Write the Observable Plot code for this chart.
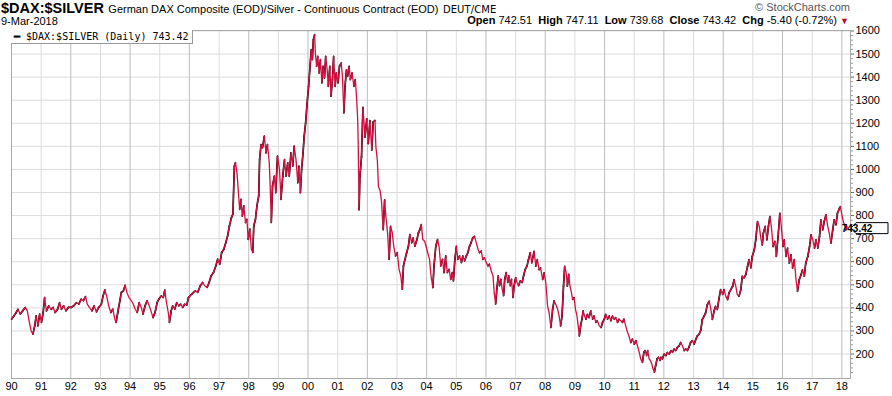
<!DOCTYPE html>
<html>
<head>
<meta charset="utf-8">
<script src="https://cdn.jsdelivr.net/npm/d3@7"></script>
<script src="https://cdn.jsdelivr.net/npm/@observablehq/plot@0.6"></script>
<style>
  html, body { margin: 0; padding: 0; background: #fff; }
  #wrap { position: relative; width: 892px; height: 396px; overflow: hidden; font-family: "Liberation Sans", Arial, sans-serif; color: #000; }
  #chart { position: absolute; left: 0; top: 0; }
  .abs { position: absolute; white-space: nowrap; z-index: 2; }
  #legend { position: absolute; z-index: 2; left: 11px; top: 30px; height: 13px; padding: 0 3px 0 3px; background: #fff;
            border-right: 1px solid #999; border-bottom: 1px solid #999; font-family: "DejaVu Sans Mono", monospace; font-size: 10px; line-height: 13px; }
</style>
</head>
<body>
<div id="wrap">
  <div id="chart"></div>
  <div class="abs" style="left:1px; top:0px; line-height:16px;">
    <span style="font-weight:bold; font-size:14.5px;">$DAX:$SILVER</span>
    <span style="font-size:11px;">German DAX Composite (EOD)/Silver - Continuous Contract (EOD)</span>
    <span style="font-family:'DejaVu Sans'; font-size:10px; letter-spacing:0.1px;">DEUT/CME</span>
  </div>
  <div class="abs" style="left:1px; top:15px; font-size:11px; line-height:13px;">9-Mar-2018</div>
  <div class="abs" style="right:42px; top:1px; font-size:11px; line-height:13px; color:#555;">&#169; StockCharts.com</div>
  <div class="abs" style="right:43px; top:14px; font-size:11px; line-height:13px;">
    <b>Open</b> 742.51 &nbsp;<b>High</b> 747.11 &nbsp;<b>Low</b> 739.68 &nbsp;<b>Close</b> 743.42 &nbsp;<b>Chg</b> -5.40 (-0.72%) <span style="color:#b00b30; font-size:9px;">&#9660;</span>
  </div>
  <div id="legend"><span style="font-family:'Liberation Sans'; font-weight:bold;">&#9473;</span> $DAX:$SILVER (Daily) 743.42</div>
</div>
<script>
const dates = [
"1990-01-02","1990-01-30","1990-02-28","1990-03-22","1990-04-19","1990-05-18","1990-06-20","1990-07-15","1990-08-09","1990-08-31",
"1990-09-22","1990-10-14","1990-11-01","1990-11-22","1990-12-14","1991-01-05","1991-01-26","1991-02-13","1991-03-07","1991-04-05",
"1991-05-04","1991-05-29","1991-06-23","1991-07-22","1991-08-17","1991-09-07","1991-10-06","1991-11-01","1991-12-03","1992-01-08",
"1992-02-06","1992-03-11","1992-04-09","1992-05-08","1992-06-05","1992-07-01","1992-07-22","1992-08-17","1992-09-18","1992-10-14",
"1992-11-12","1992-12-10","1993-01-12","1993-02-02","1993-02-24","1993-03-22","1993-04-12","1993-05-08","1993-06-02","1993-06-27",
"1993-07-12","1993-08-02","1993-08-28","1993-09-15","1993-10-10","1993-11-01","1993-11-22","1993-12-18","1994-01-15","1994-02-10",
"1994-03-04","1994-03-29","1994-04-23","1994-05-18","1994-06-09","1994-07-04","1994-07-30","1994-08-24","1994-09-15","1994-10-10",
"1994-11-04","1994-11-30","1994-12-21","1995-01-19","1995-02-13","1995-03-04","1995-03-25","1995-04-16","1995-04-30","1995-05-22",
"1995-06-09","1995-07-04","1995-07-30","1995-08-24","1995-09-15","1995-10-10","1995-11-04","1995-11-30","1995-12-21","1996-01-30",
"1996-03-14","1996-04-12","1996-05-15","1996-06-13","1996-07-08","1996-08-06","1996-08-31","1996-09-26","1996-10-24","1996-11-22",
"1996-12-14","1997-01-08","1997-02-02","1997-02-28","1997-03-25","1997-04-16","1997-05-08","1997-06-02","1997-06-20","1997-07-08",
"1997-07-22","1997-08-09","1997-08-24","1997-09-11","1997-09-26","1997-10-14","1997-11-01","1997-11-22","1997-12-10","1997-12-25",
"1998-01-15","1998-02-02","1998-02-20","1998-03-04","1998-03-25","1998-04-12","1998-05-04","1998-05-15","1998-06-02","1998-06-20",
"1998-07-12","1998-08-02","1998-08-20","1998-09-11","1998-09-22","1998-10-06","1998-10-21","1998-11-12","1998-11-30","1998-12-21",
"1999-01-15","1999-02-02","1999-02-24","1999-03-18","1999-04-05","1999-04-27","1999-05-15","1999-06-05","1999-06-27","1999-07-15",
"1999-08-06","1999-08-28","1999-09-11","1999-09-29","1999-10-14","1999-11-01","1999-11-15","1999-12-03","1999-12-18","2000-01-08",
"2000-01-23","2000-02-10","2000-02-24","2000-03-07","2000-03-22","2000-04-01","2000-04-16","2000-04-30","2000-05-18","2000-06-02",
"2000-06-20","2000-07-04","2000-07-22","2000-08-06","2000-08-24","2000-09-07","2000-09-26","2000-10-10","2000-10-28","2000-11-12",
"2000-11-30","2000-12-14","2001-01-05","2001-01-23","2001-02-13","2001-02-28","2001-03-18","2001-04-01","2001-04-19","2001-05-04",
"2001-05-22","2001-06-05","2001-06-27","2001-07-19","2001-08-06","2001-08-20","2001-09-04","2001-09-11","2001-09-21","2001-10-01",
"2001-10-21","2001-11-08","2001-12-03","2001-12-25","2002-01-12","2002-02-02","2002-02-24","2002-03-14","2002-04-05","2002-04-16",
"2002-05-04","2002-05-18","2002-06-05","2002-06-23","2002-07-15","2002-08-02","2002-08-17","2002-09-07","2002-09-26","2002-10-14",
"2002-11-04","2002-11-22","2002-12-14","2003-01-05","2003-01-26","2003-02-17","2003-03-07","2003-03-22","2003-04-09","2003-04-30",
"2003-05-22","2003-06-09","2003-07-01","2003-07-19","2003-08-09","2003-09-04","2003-09-22","2003-10-10","2003-10-28","2003-11-15",
"2003-12-07","2003-12-25","2004-01-15","2004-02-06","2004-02-24","2004-03-18","2004-04-01","2004-04-23","2004-05-15","2004-06-02",
"2004-06-23","2004-07-15","2004-08-02","2004-08-24","2004-09-11","2004-10-03","2004-10-24","2004-11-12","2004-11-26","2004-12-14",
"2005-01-02","2005-01-19","2005-02-10","2005-03-04","2005-03-22","2005-04-12","2005-05-04","2005-05-22","2005-06-13","2005-07-01",
"2005-07-22","2005-08-13","2005-09-04","2005-09-26","2005-10-14","2005-11-04","2005-11-22","2005-12-14","2006-01-05","2006-01-26",
"2006-02-13","2006-03-07","2006-03-29","2006-04-12","2006-04-30","2006-05-15","2006-06-02","2006-06-16","2006-07-04","2006-07-19",
"2006-08-06","2006-08-20","2006-09-07","2006-09-26","2006-10-10","2006-10-28","2006-11-12","2006-11-30","2006-12-14","2007-01-02",
"2007-01-19","2007-02-06","2007-02-28","2007-03-22","2007-04-09","2007-04-30","2007-05-22","2007-06-09","2007-07-01","2007-07-19",
"2007-08-17","2007-09-07","2007-09-26","2007-10-17","2007-11-04","2007-11-30","2007-12-18","2008-01-08","2008-01-30","2008-02-17",
"2008-03-11","2008-04-01","2008-04-19","2008-05-11","2008-06-02","2008-06-20","2008-07-08","2008-07-26","2008-08-13","2008-08-28",
"2008-09-15","2008-09-29","2008-10-17","2008-11-01","2008-11-19","2008-12-03","2008-12-21","2009-01-08","2009-01-26","2009-02-10",
"2009-02-24","2009-03-11","2009-03-29","2009-04-12","2009-04-30","2009-05-15","2009-06-05","2009-06-23","2009-07-15","2009-08-06",
"2009-08-24","2009-09-15","2009-10-03","2009-10-28","2009-11-19","2009-12-07","2009-12-28","2010-01-15","2010-02-06","2010-02-28",
"2010-03-18","2010-04-09","2010-04-30","2010-05-18","2010-06-09","2010-06-27","2010-07-19","2010-08-09","2010-08-28","2010-09-18",
"2010-10-10","2010-10-28","2010-11-19","2010-12-10","2011-01-02","2011-01-23","2011-02-10","2011-03-04","2011-03-22","2011-04-12",
"2011-04-30","2011-05-15","2011-06-02","2011-06-16","2011-07-04","2011-07-19","2011-08-06","2011-08-20","2011-09-07","2011-09-22",
"2011-10-10","2011-10-28","2011-11-15","2011-11-26","2011-12-14","2012-01-05","2012-01-26","2012-02-13","2012-03-07","2012-03-29",
"2012-04-16","2012-05-08","2012-05-26","2012-06-16","2012-07-08","2012-07-26","2012-08-17","2012-09-07","2012-09-26","2012-10-17",
"2012-11-04","2012-11-26","2012-12-18","2013-01-08","2013-01-30","2013-02-17","2013-03-11","2013-04-01","2013-04-19","2013-05-11",
"2013-05-29","2013-06-20","2013-07-12","2013-07-30","2013-08-20","2013-09-11","2013-09-29","2013-10-21","2013-11-08","2013-11-30",
"2013-12-25","2014-01-12","2014-02-02","2014-02-24","2014-03-14","2014-04-05","2014-04-27","2014-05-15","2014-06-05","2014-06-23",
"2014-07-15","2014-08-06","2014-08-24","2014-09-15","2014-10-06","2014-10-28","2014-11-15","2014-12-07","2014-12-25","2015-01-19",
"2015-02-06","2015-02-28","2015-03-22","2015-04-09","2015-04-27","2015-05-11","2015-06-02","2015-06-23","2015-07-12","2015-07-30",
"2015-08-17","2015-09-07","2015-09-29","2015-10-17","2015-11-08","2015-11-30","2015-12-14","2016-01-08","2016-01-23","2016-02-13",
"2016-03-04","2016-03-25","2016-04-16","2016-05-04","2016-05-26","2016-06-16","2016-07-04","2016-07-26","2016-08-17","2016-09-04",
"2016-09-26","2016-10-14","2016-11-08","2016-11-30","2016-12-18","2017-01-08","2017-01-30","2017-02-17","2017-03-11","2017-04-01",
"2017-04-19","2017-05-11","2017-05-29","2017-06-20","2017-07-12","2017-07-30","2017-08-20","2017-09-11","2017-09-29","2017-10-21",
"2017-11-08","2017-12-03","2017-12-14","2018-01-02","2018-01-19","2018-02-02","2018-02-20","2018-03-01","2018-03-09"
];
const values = [
351,365,380,394,373,387,402,387,337,300,
286,322,365,322,373,337,380,445,387,409,
394,402,380,394,423,394,409,387,402,402,
409,423,416,438,431,449,416,402,387,409,
383,402,416,452,478,445,409,380,394,351,
337,380,431,467,474,498,467,445,431,416,
394,380,423,402,373,409,431,409,387,358,
380,423,438,452,445,477,423,380,337,387,
409,394,423,409,416,402,416,412,445,460,
474,467,496,510,496,489,510,539,553,582,
611,589,640,654,683,712,755,791,806,1014,
1029,986,914,827,870,798,842,770,784,697,
741,654,640,755,784,842,885,1043,1108,1094,
1144,1072,1108,1029,928,770,928,971,899,1058,
1000,870,971,1043,971,1029,971,1072,1014,1101,
1043,942,1014,899,1000,1072,1144,1202,1274,1360,
1432,1519,1476,1562,1584,1504,1447,1490,1418,1476,
1375,1447,1396,1490,1432,1360,1447,1317,1389,1490,
1360,1418,1375,1447,1461,1404,1245,1360,1432,1404,
1447,1389,1418,1360,1389,1317,1216,1100,825,968,
1054,1269,1140,1219,1112,1212,1083,1205,1212,1097,
1040,925,911,868,739,868,796,725,610,753,
725,667,625,639,567,539,481,582,610,639,
667,718,682,703,667,696,725,739,761,696,
689,667,639,610,539,488,582,667,696,667,
582,610,553,625,553,567,524,553,517,610,
667,610,625,596,625,603,625,639,667,682,
703,710,682,653,639,646,610,617,596,582,
589,560,539,467,417,481,539,496,524,481,
453,524,553,510,539,496,524,445,496,531,
510,496,517,510,539,567,582,610,639,595,
645,581,609,566,573,523,552,509,408,380,
315,394,430,415,394,365,322,365,494,580,
552,494,545,494,466,437,444,394,365,322,
279,322,351,387,365,351,372,358,387,351,
365,337,344,322,315,337,351,372,351,365,
344,365,351,358,337,351,344,337,351,322,
294,279,250,265,243,258,236,207,179,164,
207,215,193,215,179,172,157,136,122,150,
179,186,172,186,179,200,193,207,200,215,
207,222,215,229,236,250,236,215,222,215,
229,250,258,243,265,279,286,305,350,364,
378,414,429,400,350,386,407,393,436,479,
458,479,450,436,465,479,494,522,494,458,
450,479,537,530,544,580,609,573,623,652,
695,774,753,702,673,724,753,695,753,796,
753,666,688,623,709,810,767,666,695,623,
659,594,630,573,609,522,472,522,544,565,
537,594,623,666,717,695,659,695,659,709,
781,738,774,803,753,724,681,738,781,760,
810,832,839,803,774,760,738,753,743.42
];
const yTickValues = [200,300,400,500,600,700,800,900,1000,1100,1200,1300,1400,1500,1600];
const yMinorValues = [120,140,160,180,220,240,260,280,320,340,360,380,420,440,460,480,520,540,560,580,620,640,660,680,720,740,760,780,820,840,860,880,920,940,960,980,1020,1040,1060,1080,1120,1140,1160,1180,1220,1240,1260,1280,1320,1340,1360,1380,1420,1440,1460,1480,1520,1540,1560,1580];
const years = [1990,1991,1992,1993,1994,1995,1996,1997,1998,1999,2000,2001,2002,2003,2004,2005,2006,2007,2008,2009,2010,2011,2012,2013,2014,2015,2016,2017,2018];
const yearLabels = ["90","91","92","93","94","95","96","97","98","99","00","01","02","03","04","05","06","07","08","09","10","11","12","13","14","15","16","17","18"];
const lastClose = 743.42;

const data = dates.map((d, i) => ({date: new Date(d + "T00:00:00Z"), value: values[i]}));
const segs = data.slice(1).map((d, i) => ({x1: data[i].date, y1: data[i].value, x2: d.date, y2: d.value, up: d.value >= data[i].value}));
const yearDates = years.map(y => new Date(Date.UTC(y, 0, 1)));
const labelOf = new Map(yearDates.map((d, i) => [+d, yearLabels[i]]));
const evenYears = yearDates.filter((d, i) => years[i] % 2 === 0 && i > 0);
const oddYears = yearDates.filter((d, i) => years[i] % 2 === 1);

const plot = Plot.plot({
  width: 892,
  height: 396,
  marginTop: 30,
  marginBottom: 18,
  marginLeft: 11,
  marginRight: 42,
  style: {fontFamily: "'Liberation Sans', Arial, sans-serif", fontSize: "11px", background: "#fff"},
  x: {type: "utc", domain: [new Date(Date.UTC(1990, 0, 1)), new Date(Date.UTC(2018, 3, 18))], label: null},
  y: {domain: [94, 1602], label: null},
  marks: [
    Plot.ruleY(yTickValues, {stroke: "#dcdcdc"}),
    Plot.ruleX(oddYears, {stroke: "#dcdcdc"}),
    Plot.ruleX(evenYears, {stroke: "#bdbdbd"}),
    Plot.frame({stroke: "#a8a8a8"}),
    Plot.link(segs.filter(s => s.up), {x1: "x1", y1: "y1", x2: "x2", y2: "y2", stroke: "#000", strokeWidth: 1.7, strokeLinecap: "round"}),
    Plot.lineY(data, {x: "date", y: "value", stroke: "#d40f3f", strokeWidth: 1.3, strokeLinejoin: "round"}),
    Plot.axisY(yMinorValues, {anchor: "right", tickSize: 2, stroke: "#999", text: null, label: null}),
    Plot.axisY(yTickValues, {anchor: "right", tickSize: 3, tickPadding: 2, stroke: "#666", fill: "#000", tickFormat: d => String(d), label: null}),
    Plot.axisX(yearDates, {anchor: "bottom", tickSize: 0, tickPadding: 4, tickFormat: d => labelOf.get(+d), fill: "#000", label: null})
  ]
});
document.getElementById("chart").appendChild(plot);

// last value marker on the right axis, placed with the plot's own scales
const svg = d3.select(plot);
const yy = plot.scale("y").apply(lastClose);
const xx = plot.scale("x").range[1];
const g = svg.append("g");
g.append("path")
  .attr("d", `M${xx + 1},${yy} L${xx + 6},${yy - 5.5} L${xx + 38},${yy - 5.5} L${xx + 38},${yy + 5.5} L${xx + 6},${yy + 5.5} Z`)
  .attr("fill", "#fff").attr("stroke", "#000").attr("stroke-width", 1);
g.append("text").attr("x", xx + 7).attr("y", yy + 3.5).attr("font-weight", "bold").attr("font-size", 10).text(lastClose.toFixed(2));
</script>
</body>
</html>
